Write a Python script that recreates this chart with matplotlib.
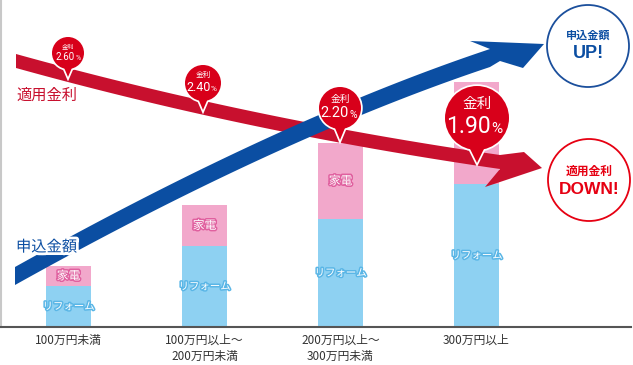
import numpy as np
import matplotlib.pyplot as plt
import matplotlib.patheffects as pe
from matplotlib.patches import Polygon, Circle

plt.rcParams['font.family'] = ['Noto Sans CJK JP', 'DejaVu Sans']

# データ
categories = ['100万円未満', '100万円以上～\n200万円未満', '200万円以上～\n300万円未満', '300万円以上']
reform = [41, 81, 108, 143]   # リフォーム
kaden = [20, 41, 76, 102]     # 家電
rates = ['2.60', '2.40', '2.20', '1.90']

RED = '#c8102e'
BLUE = '#0b4ea2'

fig = plt.figure(figsize=(6.33, 3.65), dpi=100)
ax = fig.add_axes([1/633, 38/365, 630/633, 327/365])
x = np.arange(len(categories))
ax.bar(x, reform, width=0.33, color='#8ed1f2', zorder=1)
ax.bar(x, kaden, bottom=reform, width=0.33, color='#f2a8cb', zorder=1)
ax.set_xlim(-67.5/136, (630-67.5)/136)
ax.set_ylim(0, 327)
ax.set_yticks([])
ax.set_xticks(x)
ax.set_xticklabels(categories, fontsize=8.5, color='#333333', linespacing=1.25)
ax.tick_params(axis='x', length=0, pad=5)
for s in ['top', 'right']:
    ax.spines[s].set_visible(False)
ax.spines['left'].set_color('#c8c8c8')
ax.spines['left'].set_linewidth(1.5)
ax.spines['bottom'].set_color('#555555')
ax.spines['bottom'].set_linewidth(1.5)

for i in range(len(categories)):
    ax.text(i, reform[i]/2, 'リフォーム', ha='center', va='center', fontsize=7.5, color='white',
            path_effects=[pe.withStroke(linewidth=2.2, foreground='#5ab6e6')], zorder=2)
    ax.text(i, reform[i] + kaden[i]/2, '家電', ha='center', va='center', fontsize=8.5, color='white',
            path_effects=[pe.withStroke(linewidth=2.2, foreground='#e0609f')], zorder=2)

# 矢印・吹き出し用のレイヤー (ピクセル座標)
ov = fig.add_axes([0, 0, 1, 1])
ov.set_xlim(0, 633)
ov.set_ylim(365, 0)
ov.axis('off')
ov.patch.set_alpha(0)


def band(p0, p1, p2, h, head, color, z):
    t = np.linspace(0, 1, 80)[:, None]
    pts = (1-t)**2*np.array(p0) + 2*(1-t)*t*np.array(p1) + t**2*np.array(p2)
    up = pts - [0, h/2]
    lo = pts + [0, h/2]
    poly = np.vstack([up, head, lo[::-1]])
    ov.add_patch(Polygon(poly, closed=True, color=color, lw=0, zorder=z))


# 適用金利 (赤)
band((16, 61), (250, 126), (500, 162), 14,
     [(524, 152), (542, 168), (485, 187)], RED, 3)
# 申込金額 (青)
band((15, 276), (280, 128), (490, 58), 18,
     [(470, 41), (544, 44), (523, 68), (500, 61)], BLUE, 4)

ov.text(16, 95, '適用金利', fontsize=11, color=RED, va='center', ha='left', zorder=5)
ov.text(16, 247, '申込金額', fontsize=11, color=BLUE, va='center', ha='left', zorder=5,
        path_effects=[pe.withStroke(linewidth=4, foreground='white')])


def bubble(cx, cy, r, tip, rate, fs1, fs2, fs3):
    w = r*0.3
    ptr = [(cx-w, cy+r*0.8), (cx, tip), (cx+w, cy+r*0.8)]
    ov.add_patch(Circle((cx, cy), r, facecolor='white', edgecolor='white', lw=2.5, zorder=6))
    ov.add_patch(Polygon(ptr, closed=True, facecolor='white', edgecolor='white', lw=2.5, zorder=6))
    ov.add_patch(Circle((cx, cy), r, color='#d8001a', lw=0, zorder=7))
    ov.add_patch(Polygon(ptr, closed=True, color='#d8001a', lw=0, zorder=7))
    ov.text(cx, cy - r*0.45, '金利', fontsize=fs1, color='white', ha='center', va='center', zorder=8)
    ov.text(cx + r*0.42, cy + r*0.26, rate, fontsize=fs2, color='white', ha='right', va='center',
            family='Roboto', zorder=8)
    ov.text(cx + r*0.45, cy + r*0.33, '%', fontsize=fs3, color='white', ha='left', va='center',
            family='Roboto', zorder=8)


bubble(68, 53, 16, 77, rates[0], 4.5, 7, 5)
bubble(203, 83, 18, 110, rates[1], 5.5, 9, 6)
bubble(340, 108, 21, 140, rates[2], 7, 10.5, 7.5)
bubble(477, 118, 32, 163, rates[3], 10.5, 16.5, 11)

# 右側の丸
ov.add_patch(Circle((588, 46), 41, facecolor='white', edgecolor='#1b4f9c', lw=1.3, zorder=5))
ov.text(588, 35, '申込金額', fontsize=8, weight='bold', color=BLUE, ha='center', va='center', zorder=6)
ov.text(588, 54, 'UP!', fontsize=13, weight='bold', color=BLUE, ha='center', va='center',
        family='Liberation Sans', zorder=6)
ov.add_patch(Circle((589, 180), 41, facecolor='white', edgecolor='#e60012', lw=1.3, zorder=5))
ov.text(589, 171, '適用金利', fontsize=8.5, weight='bold', color='#e60012', ha='center', va='center', zorder=6)
ov.text(589, 190, 'DOWN!', fontsize=12.5, weight='bold', color='#e60012', ha='center', va='center',
        family='Liberation Sans', zorder=6)

fig.savefig('out.png', dpi=100)
